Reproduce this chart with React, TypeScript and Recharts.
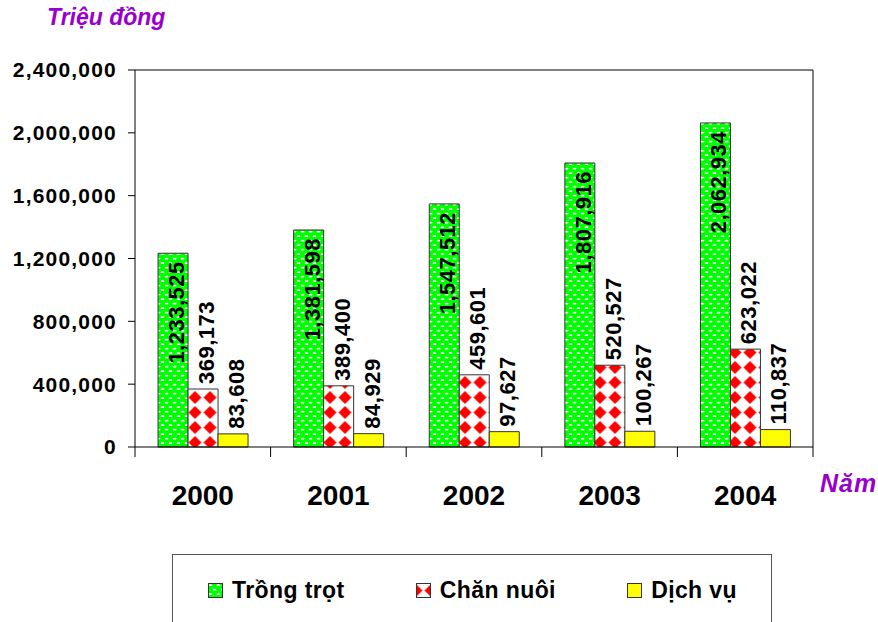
import React from "react";
import { BarChart, Bar, XAxis, YAxis, Legend, LabelList } from "recharts";

const years = ["2000", "2001", "2002", "2003", "2004"];
const trongTrot = [1233525, 1381598, 1547512, 1807916, 2062934];
const chanNuoi = [369173, 389400, 459601, 520527, 623022];
const dichVu = [83608, 84929, 97627, 100267, 110837];
const yTicks = [0, 400000, 800000, 1200000, 1600000, 2000000, 2400000];
const seriesNames = ["Trồng trọt", "Chăn nuôi", "Dịch vụ"];

const data = years.map((year, i) => ({
  year,
  trongTrot: trongTrot[i],
  chanNuoi: chanNuoi[i],
  dichVu: dichVu[i],
}));

const FONT = '"Liberation Sans", Arial, Helvetica, sans-serif';
const PURPLE = "#9900CC";
const fills = ["url(#greenDots)", "url(#redDiamonds)", "#FFFF00"];

const fmt = (v: number) => Number(v).toLocaleString("en-US");

// rotated value label; green ones sit inside the top of the bar
const makeLabel = (inside: boolean) => (props: any) => {
  const { x, y, width, value } = props;
  const tx = Number(x) + Number(width) - 4;
  const ty = inside ? Number(y) + 8 : Number(y) - 5;
  return (
    <text
      x={tx}
      y={ty}
      transform={`rotate(-90 ${tx} ${ty})`}
      textAnchor={inside ? "end" : "start"}
      fontFamily={FONT}
      fontWeight="bold"
      fontSize={22}
      letterSpacing={0.5}
      fill="#000"
    >
      {fmt(value)}
    </text>
  );
};

// year label plus tick marks on the category boundaries
const XTick = (props: any) => {
  const { x, y, payload, index, width, visibleTicksCount } = props;
  const count = visibleTicksCount || years.length;
  const band = width ? Number(width) / count : 135.6;
  const left = x - band / 2;
  return (
    <g>
      <line x1={left} x2={left} y1={y} y2={y + 10} stroke="#000" />
      {index === count - 1 && (
        <line x1={x + band / 2} x2={x + band / 2} y1={y} y2={y + 10} stroke="#000" />
      )}
      <text
        x={x}
        y={y + 58}
        textAnchor="middle"
        fontFamily={FONT}
        fontWeight="bold"
        fontSize={28}
        fill="#000"
      >
        {payload.value}
      </text>
    </g>
  );
};

const LegendBox = () => (
  <div
    style={{
      boxSizing: "border-box",
      width: 600,
      height: 68,
      borderTop: "1px solid #555",
      borderLeft: "1px solid #555",
      borderRight: "1px solid #555",
      display: "flex",
      justifyContent: "space-between",
      alignItems: "center",
      padding: "4px 34px 0 35px",
      fontFamily: FONT,
      fontWeight: "bold",
      fontSize: 23,
      color: "#000",
      background: "#fff",
    }}
  >
    {seriesNames.map((name, i) => (
      <div key={name} style={{ display: "flex", alignItems: "center" }}>
        <svg width={15} height={15} style={{ marginRight: 9 }}>
          <rect x={0.5} y={0.5} width={14} height={14} fill={fills[i]} stroke="#333" />
        </svg>
        <span style={{ letterSpacing: 0.4 }}>{name}</span>
      </div>
    ))}
  </div>
);

export default function App() {
  return (
    <div
      style={{
        position: "fixed",
        left: 0,
        top: 0,
        width: 878,
        height: 622,
        background: "#fff",
        overflow: "hidden",
      }}
    >
      <BarChart
        width={878}
        height={622}
        data={data}
        margin={{ top: 69, right: 64, bottom: 0, left: 0 }}
        barCategoryGap="17%"
        barGap={0}
      >
        <defs>
          <pattern id="greenDots" width={8} height={9} patternUnits="userSpaceOnUse">
            <rect width={8} height={9} fill="#00FF00" />
            <ellipse cx={2.5} cy={2.2} rx={1.9} ry={0.9} fill="#fff" />
            <ellipse cx={6.5} cy={6.7} rx={1.9} ry={0.9} fill="#fff" />
            <ellipse cx={-1.5} cy={6.7} rx={1.9} ry={0.9} fill="#fff" />
          </pattern>
          <pattern id="redDiamonds" x={7.5} width={15} height={15} patternUnits="userSpaceOnUse">
            <rect width={15} height={15} fill="#fff" />
            <polygon points="7.5,1 14,7.5 7.5,14 1,7.5" fill="#FF0000" />
          </pattern>
        </defs>
        <XAxis
          dataKey="year"
          height={175}
          axisLine={{ stroke: "#000" }}
          tickLine={false}
          tickSize={0}
          tickMargin={0}
          tick={<XTick />}
          interval={0}
        />
        <XAxis
          xAxisId="top"
          dataKey="year"
          orientation="top"
          height={1}
          axisLine={{ stroke: "#000" }}
          tick={false}
          tickLine={false}
        />
        <YAxis
          width={135}
          domain={[0, 2400000]}
          ticks={yTicks}
          tickFormatter={fmt}
          axisLine={{ stroke: "#000" }}
          tickLine={{ stroke: "#000" }}
          tickSize={7}
          tickMargin={11}
          tick={{
            fill: "#000",
            fontFamily: FONT,
            fontWeight: "bold",
            fontSize: 21,
            letterSpacing: 1.2,
          }}
          interval={0}
        />
        <YAxis
          yAxisId="right"
          orientation="right"
          width={1}
          domain={[0, 2400000]}
          axisLine={{ stroke: "#000" }}
          tick={false}
          tickLine={false}
        />
        <Legend
          layout="vertical"
          verticalAlign="middle"
          align="center"
          content={<LegendBox />}
          wrapperStyle={{ left: 172, top: 554, width: 600, height: 68 }}
        />
        <Bar dataKey="trongTrot" name={seriesNames[0]} fill={fills[0]} stroke="#333" isAnimationActive={false}>
          <LabelList dataKey="trongTrot" content={makeLabel(true)} />
        </Bar>
        <Bar dataKey="chanNuoi" name={seriesNames[1]} fill={fills[1]} stroke="#333" isAnimationActive={false}>
          <LabelList dataKey="chanNuoi" content={makeLabel(false)} />
        </Bar>
        <Bar dataKey="dichVu" name={seriesNames[2]} fill={fills[2]} stroke="#333" isAnimationActive={false}>
          <LabelList dataKey="dichVu" content={makeLabel(false)} />
        </Bar>
      </BarChart>
      <div
        style={{
          position: "absolute",
          left: 47,
          top: 6,
          fontFamily: FONT,
          fontStyle: "italic",
          fontWeight: "bold",
          fontSize: 23,
          lineHeight: "23px",
          color: PURPLE,
          whiteSpace: "nowrap",
        }}
      >
        Triệu đồng
      </div>
      <div
        style={{
          position: "absolute",
          left: 820,
          top: 471,
          fontFamily: FONT,
          fontStyle: "italic",
          fontWeight: "bold",
          fontSize: 25,
          lineHeight: "25px",
          letterSpacing: 1,
          color: PURPLE,
          whiteSpace: "nowrap",
        }}
      >
        Năm
      </div>
    </div>
  );
}
